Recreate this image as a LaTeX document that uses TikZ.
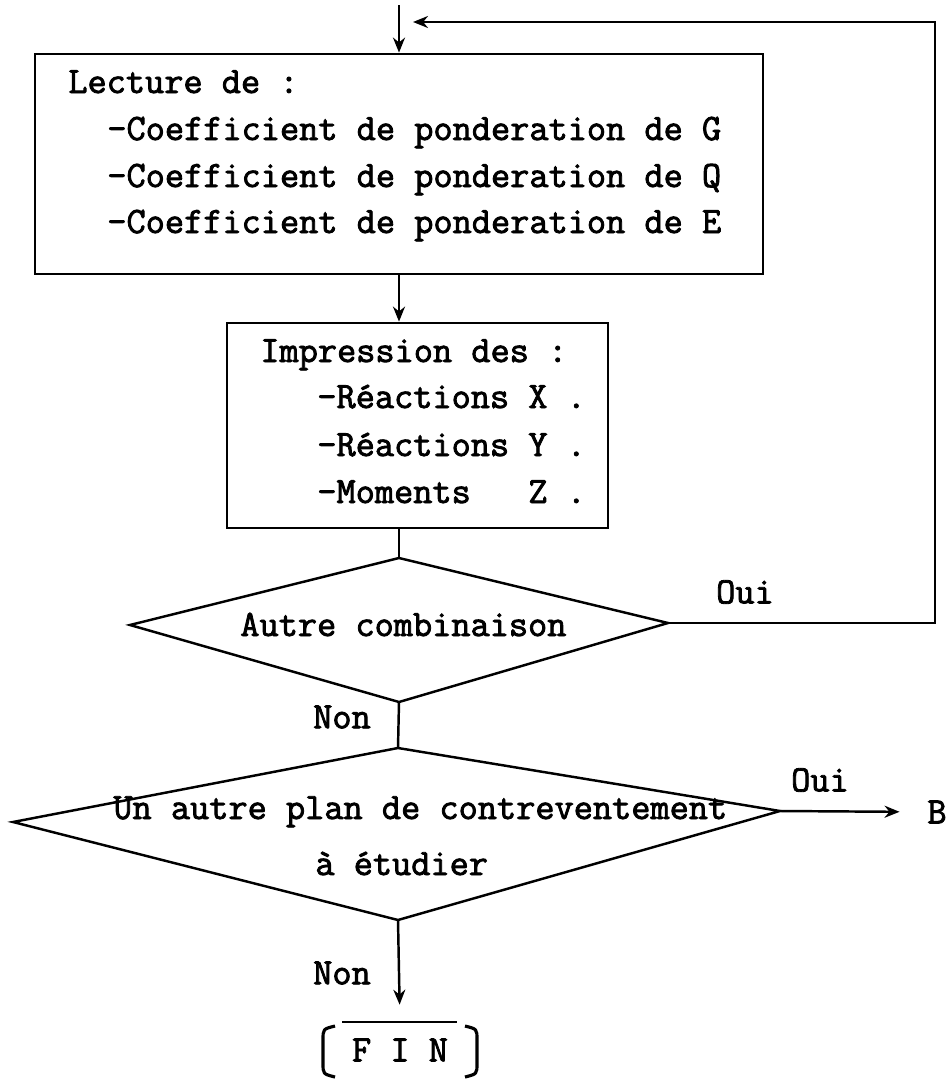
\documentclass[tikz,border=0pt]{standalone}
\usepackage{fontspec}
\newfontfamily\printfont[FakeBold=2.2]{Latin Modern Mono}
\usetikzlibrary{arrows.meta}

\tikzset{
  txt/.style={font=\printfont\fontsize{21.2}{25}\selectfont, inner sep=0pt, anchor=base west},
  lbl/.style={font=\printfont\fontsize{21.2}{25}\selectfont, inner sep=0pt},
  boite/.style={draw, line width=1.6pt, rectangle, inner sep=0pt},
  trait/.style={line width=1.4pt},
  fleche/.style={trait, -{Stealth[length=3mm,width=2.4mm]}},
}

\begin{document}
\begin{tikzpicture}[x=0.02cm, y=-0.02cm]
  \useasboundingbox (0,0) rectangle (951,1085);

  % lecture des coefficients
  \node[boite, minimum width=14.56cm, minimum height=4.4cm] (lecture) at (399,164) {};
  \node[txt] (lec0) at (68,93)  {Lecture de :};
  \node[txt] (lec1) at (107,140) {-Coefficient de ponderation de G};
  \node[txt] (lec2) at (107,187) {-Coefficient de ponderation de Q};
  \node[txt] (lec3) at (107,233) {-Coefficient de ponderation de E};

  % impression des resultats
  \node[boite, minimum width=7.62cm, minimum height=4.1cm] (impression) at (417.5,425.5) {};
  \node[txt] (imp0) at (260,362) {Impression des :};
  \node[txt] (imp1) at (317,408) {-Réactions X .};
  \node[txt] (imp2) at (317,456) {-Réactions Y .};
  \node[txt] (imp3) at (317,503) {-Moments\ \ \ Z .};

  % premier test
  \coordinate (d1n) at (399,558);
  \coordinate (d1w) at (130,625);
  \coordinate (d1e) at (668,623);
  \coordinate (d1s) at (399,702);
  \draw[trait] (d1n) -- (d1e) -- (d1s) -- (d1w) -- cycle;
  \node[txt] (combi) at (240,636) {Autre combinaison};

  % second test
  \coordinate (d2n) at (398,748);
  \coordinate (d2w) at (13,822);
  \coordinate (d2e) at (780,811);
  \coordinate (d2s) at (398,920);
  \draw[trait] (d2n) -- (d2e) -- (d2s) -- (d2w) -- cycle;
  \node[txt] (plan1) at (113,819) {Un autre plan de contreventement};
  \node[txt] (plan2) at (315,875) {à étudier};

  % fin
  \node[lbl, minimum width=3.1cm, minimum height=1cm] (fin) at (400,1050) {F I N};
  \draw[line width=1.6pt] (342,1022) -- (457,1022);
  \draw[line width=1.8pt] (335,1026) .. controls (323,1029) .. (323,1040) -- (323,1063)
    .. controls (323,1074) .. (335,1077);
  \draw[line width=1.8pt] (465,1026) .. controls (477,1029) .. (477,1040) -- (477,1063)
    .. controls (477,1074) .. (465,1077);

  % labels
  \node[lbl] (oui1) at (745,592) {Oui};
  \node[lbl] (non1) at (342,717) {Non};
  \node[lbl] (oui2) at (820,780) {Oui};
  \node[lbl] (b)    at (937,812) {B};
  \node[lbl] (non2) at (342,973) {Non};

  % liaisons
  \coordinate (entree) at (399,5);
  \coordinate (coin)   at (935,22);
  \coordinate (retour) at (413,22);
  \draw[fleche] (entree) -- (lecture.north);
  \draw[fleche] (lecture.south) -- (lecture.south |- impression.north);
  \draw[trait] (impression.south -| lecture.south) -- (d1n);
  \draw[fleche] (d1e) -| (coin) -- (retour);
  \draw[trait] (d1s) -- (d2n);
  \draw[fleche, shorten >=0.55cm] (d2e) -- (b.west);
  \draw[fleche, shorten >=0.4cm] (d2s) -- (fin.north);
\end{tikzpicture}
\end{document}
